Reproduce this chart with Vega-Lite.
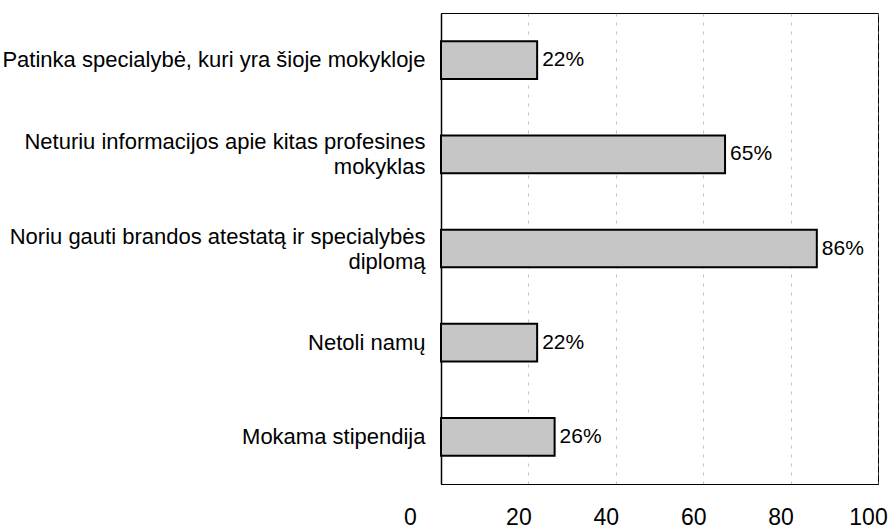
{
  "$schema": "https://vega.github.io/schema/vega-lite/v6.json",
  "width": 437,
  "height": 471,
  "autosize": {"type": "none"},
  "padding": {"left": 441, "top": 13, "right": 12, "bottom": 46},
  "background": "white",
  "config": {
    "view": {"stroke": "#000", "strokeWidth": 1}
  },
  "data": {
    "values": [
      {"label": ["Patinka specialybė, kuri yra šioje mokykloje"], "order": 1, "value": 22},
      {"label": ["Neturiu informacijos apie kitas profesines", "mokyklas"], "order": 2, "value": 65},
      {"label": ["Noriu gauti brandos atestatą ir specialybės", "diplomą"], "order": 3, "value": 86},
      {"label": ["Netoli namų"], "order": 4, "value": 22},
      {"label": ["Mokama stipendija"], "order": 5, "value": 26}
    ]
  },
  "encoding": {
    "y": {
      "field": "label",
      "type": "nominal",
      "sort": {"field": "order"},
      "scale": {"paddingInner": 0.6, "paddingOuter": 0.3},
      "axis": {
        "title": null,
        "labelFont": "Liberation Sans",
        "labelFontSize": 22,
        "labelColor": "#000",
        "labelPadding": 16,
        "labelLimit": 450,
        "labelLineHeight": 25,
        "labelOffset": {"condition": {"test": "length(datum.value) > 1", "value": -12}, "value": 0},
        "ticks": false,
        "domainColor": "#000",
        "domainWidth": 1.5
      }
    },
    "x": {
      "field": "value",
      "type": "quantitative",
      "scale": {"domain": [0, 100]},
      "axis": {
        "title": null,
        "values": [0, 20, 40, 60, 80, 100],
        "labelFont": "Liberation Sans",
        "labelFontSize": 23,
        "labelColor": "#000",
        "labelPadding": 22,
        "labelFlush": false,
        "labelOffset": {"condition": {"test": "datum.value === 0", "value": -31}, "value": -10},
        "ticks": false,
        "domainColor": "#000",
        "grid": true,
        "gridColor": "#888",
        "gridDash": [3, 6],
        "gridOpacity": 0.5
      }
    }
  },
  "layer": [
    {
      "mark": {"type": "bar", "fill": "#c6c6c6", "stroke": "#000", "strokeWidth": 2}
    },
    {
      "mark": {"type": "text", "align": "left", "dx": 5, "fontSize": 21, "font": "Liberation Sans", "color": "#000", "text": {"expr": "datum.value + '%'"}}
    }
  ]
}
